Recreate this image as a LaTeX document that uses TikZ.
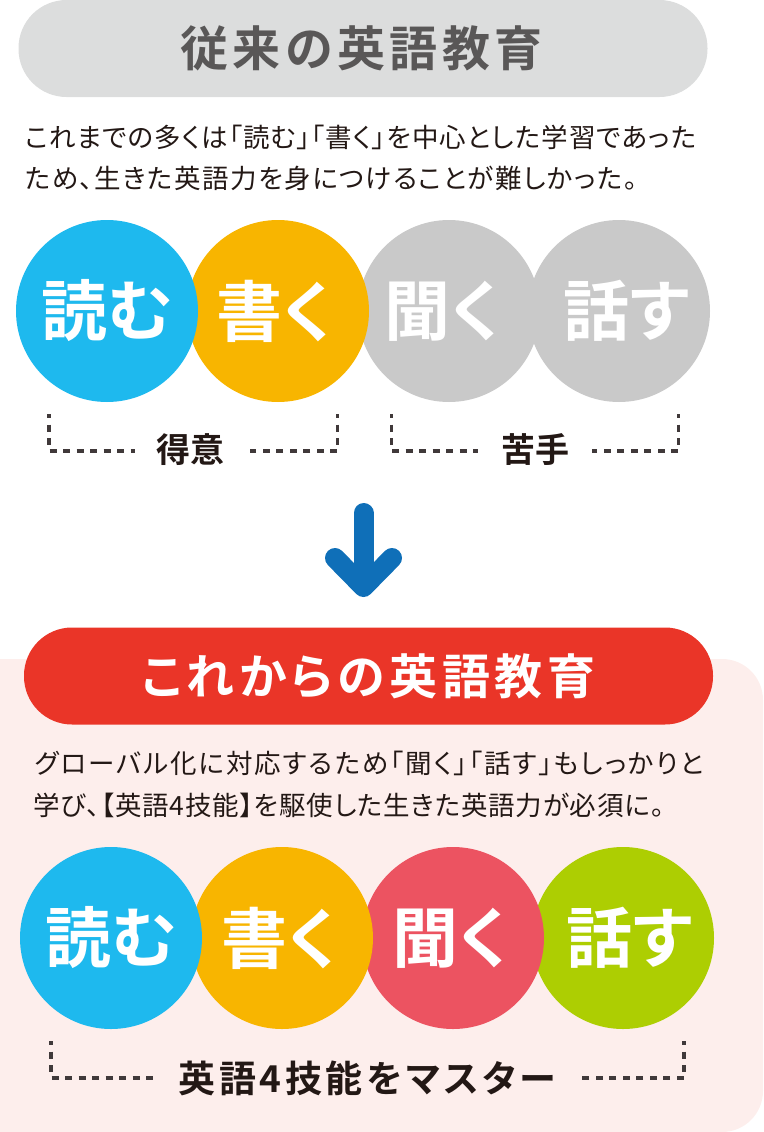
\documentclass[tikz,border=0pt]{standalone}
\usepackage{fontspec}
\setmainfont[BoldFont={Noto Sans CJK JP Bold}, RawFeature={+palt}]{Noto Sans CJK JP Medium}
\newfontfamily\bodyfont[RawFeature={+palt}]{Noto Sans CJK JP}
\usetikzlibrary{positioning}
\definecolor{skillblue}{HTML}{1EB9EE}
\definecolor{skillorange}{HTML}{F8B500}
\definecolor{skillgray}{HTML}{C9C9C9}
\definecolor{skillred}{HTML}{EC5361}
\definecolor{skillgreen}{HTML}{ADCE02}
\definecolor{inktext}{HTML}{231815}
\definecolor{titlegray}{HTML}{595757}
\definecolor{dashgray}{HTML}{40393A}
\definecolor{panelpink}{HTML}{FDEEEC}
\definecolor{barred}{HTML}{EA3528}
\definecolor{bargray}{HTML}{DCDDDD}
\definecolor{arrowblue}{HTML}{0F6FB8}
\tikzset{
	skill/.style={circle, minimum size=182pt, inner sep=0pt, text=white, font=\fontsize{66}{66}\selectfont\bfseries},
	titlebar/.style={rounded corners=48pt, minimum width=689pt, minimum height=97pt, inner sep=0pt, font=\fontsize{48}{48}\selectfont\bfseries\addfontfeature{LetterSpace=9.5}},
	bodyline/.style={anchor=west, inner sep=0pt, text=inktext, font=\bodyfont\fontsize{26.5}{26.5}\selectfont\addfontfeature{LetterSpace=#1}},
	tag/.style={inner sep=0pt, text=inktext, font=\fontsize{34}{34}\selectfont\bfseries},
	bigtag/.style={inner sep=0pt, text=inktext, font=\fontsize{37}{37}\selectfont\bfseries\addfontfeature{LetterSpace=10}},
	bracket/.style={draw=dashgray, line width=3.4pt, dash pattern=on 7pt off 6.5pt, dash phase=3pt},
}
\begin{document}
\begin{tikzpicture}[x=1pt, y=-1pt]
	\useasboundingbox (0,0) rectangle (763,1132);
	\fill [panelpink, rounded corners=41pt] (-60,659) rectangle (763,1132);

	% old way
	\node [titlebar, fill=bargray, text=titlegray] (oldbar) at (363,48.5) {\kern-3pt 従来の英語教育};
	\node [bodyline=4] (oldline1) at (25,137) {これまでの多くは「読む」「書く」を中心とした学習であった};
	\node [bodyline=5.8] (oldline2) at (25,178) {ため、生きた英語力を身につけることが難しかった。};

	\node [skill, fill=skillgray] (oldspeak) at (619,311) {\kern14pt 話す};
	\node [skill, fill=skillgray] (oldlisten) at (449,311) {\kern-13pt 聞く};
	\node [skill, fill=skillorange] (oldwrite) at (278,311) {\kern-8pt 書く};
	\node [skill, fill=skillblue] (oldread) at (107,311) {読む};

	\node [tag] (good) at (190,450) {得意};
	\node [tag] (weak) at (535,450) {苦手};
	\draw [bracket] (49,414) -- (49,451) -- (135,451);
	\draw [bracket] (337.5,414) -- (337.5,451) -- (250,451);
	\draw [bracket] (391.5,414) -- (391.5,451) -- (478,451);
	\draw [bracket] (678.5,414) -- (678.5,451) -- (592,451);

	% arrow
	\draw [arrowblue, line width=20pt, line cap=round] (363.5,513) -- (363.5,575);
	\draw [arrowblue, line width=20pt, line cap=round, line join=round] (335,558) -- (363.5,587) -- (392,558);

	% new way
	\node [titlebar, fill=barred, text=white] (newbar) at (368.5,676) {これからの英語教育};
	\node [bodyline=7.3] (newline1) at (35,763) {グローバル化に対応するため「聞く」「話す」もしっかりと};
	\node [bodyline=3.2] (newline2) at (33,805) {学び、【英語4技能】を駆使した生きた英語力が必須に。};

	\node [skill, fill=skillgreen] (newspeak) at (623,938) {\kern13pt 話す};
	\node [skill, fill=skillred] (newlisten) at (453,938) {\kern-5pt 聞く};
	\node [skill, fill=skillorange] (newwrite) at (282,938) {\kern-5pt 書く};
	\node [skill, fill=skillblue] (newread) at (111,938) {読む};

	\node [bigtag] (master) at (367,1078) {英語4技能をマスター};
	\draw [bracket] (51,1041) -- (51,1078) -- (153,1078);
	\draw [bracket] (684,1041) -- (684,1078) -- (582,1078);
\end{tikzpicture}
\end{document}
